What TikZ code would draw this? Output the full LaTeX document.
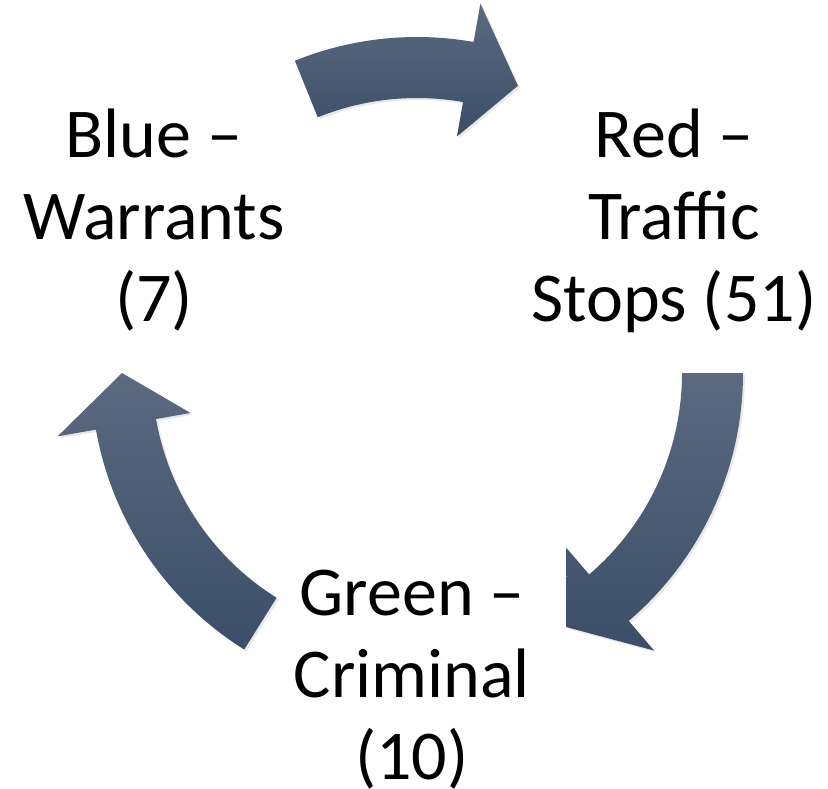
\documentclass[tikz,border=0pt]{standalone}
\usepackage{fontspec}
\setmainfont{Carlito}
\usetikzlibrary{calc, shadows}

\definecolor{arrowtop}{RGB}{92,106,128}
\definecolor{arrowbot}{RGB}{59,77,104}

% curved block arrow round a hub: hub, tail angle, head base angle, tip angle
\newcommand{\cyclearrow}[4]{%
  \path[arrowbody] ($(#1)+(#2:326)$) arc[start angle=#2, end angle=#3, radius=326]
    -- ($(#1)+(#3:365)$) -- ($(#1)+(#4:295)$) -- ($(#1)+(#3:230)$)
    -- ($(#1)+(#3:265)$) arc[start angle=#3, end angle=#2, radius=265] -- cycle;}

\begin{document}
\begin{tikzpicture}[x=1pt, y=-1pt,
  arrowbody/.style={top color=arrowtop, bottom color=arrowbot, draw=none,
    drop shadow={opacity=0.18, shadow xshift=2pt, shadow yshift=-2pt}},
  stagetext/.style={align=center, inner sep=0pt, anchor=north,
    font=\fontsize{70}{82}\selectfont}]
\useasboundingbox (0,0) rectangle (828,788);

\coordinate (hub) at (417,373);
\coordinate (hubtop) at (417,363);

\node[stagetext] (blue) at (154,109) {Blue –\\Warrants\\(7)};
\node[stagetext] (red) at (674,109) {Red –\\Traffic\\Stops (51)};
\node[stagetext] (green) at (412,570) {Green –\\Criminal\\(10)};

\cyclearrow{hubtop}{-112}{-80}{-70}
\cyclearrow{hub}{0}{49.5}{59.5}
\cyclearrow{hub}{122}{170}{180}
\end{tikzpicture}
\end{document}
